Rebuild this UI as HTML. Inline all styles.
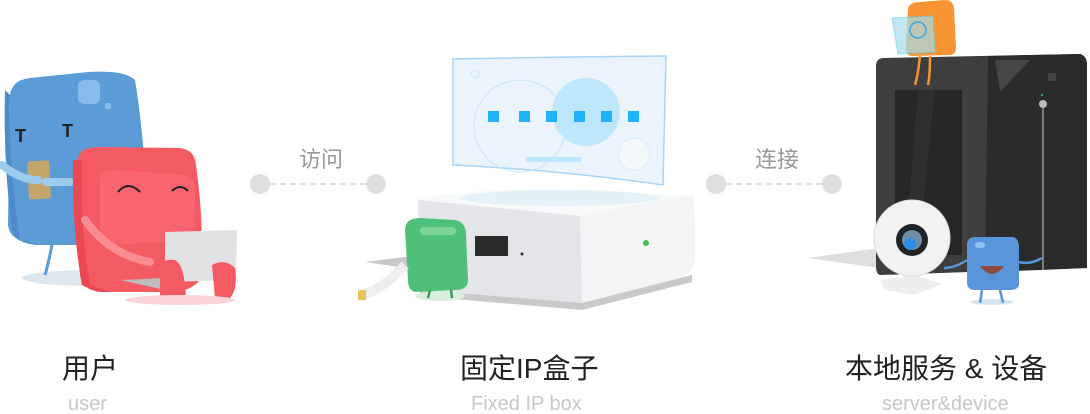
<!DOCTYPE html>
<html><head><meta charset="utf-8"><style>
html,body{margin:0;padding:0;background:#fff;width:1090px;height:414px;overflow:hidden;position:relative;font-family:"Liberation Sans","Noto Sans CJK SC",sans-serif}
.t{position:absolute;white-space:nowrap}
.cn{font-size:28px;color:#222;top:347px}
.en{font-size:20px;color:#c8c8c8;top:393px}
.lk{font-size:22px;color:#999;top:142px}
</style></head><body>
<svg width="1090" height="414" style="position:absolute;left:0;top:0">
<g fill="#dedede"><circle cx="260" cy="184" r="10"/><circle cx="376" cy="184" r="10"/><circle cx="716" cy="184" r="10"/><circle cx="832" cy="184" r="10"/></g>
<g stroke="#dedede" stroke-width="2" stroke-dasharray="6,4"><line x1="270" y1="184" x2="366" y2="184"/><line x1="726" y1="184" x2="822" y2="184"/></g>
<ellipse cx="90" cy="278" rx="68" ry="8" fill="#dfe7ee"/>
<path d="M10 95 Q12 80 30 78 L88 72 Q125 70 135 80 Q145 140 148 230 Q140 245 120 245 L40 245 Q10 243 8 225 Z" fill="#5b9bd6"/>
<path d="M5 90 Q3 160 12 232 Q20 245 40 245 L20 240 Q8 160 10 95Z" fill="#4d8cc8"/>
<rect x="78" y="80" width="22" height="24" rx="6" fill="#86bbea"/>
<rect x="105" y="103" width="6" height="6" rx="2" fill="#86bbea"/>
<text x="15" y="142" font-size="18" font-weight="bold" fill="#222" font-family="Liberation Sans">T</text>
<text x="62" y="137" font-size="18" font-weight="bold" fill="#222" font-family="Liberation Sans">T</text>
<rect x="28" y="161" width="22" height="38" rx="2" fill="#c5a66a" transform="rotate(-3 39 180)"/>
<path d="M2 165 Q20 180 38 180" stroke="#9ccbf0" stroke-width="8" fill="none" stroke-linecap="round"/>
<path d="M46 182 L70 182" stroke="#9ccbf0" stroke-width="8" stroke-linecap="round"/>
<path d="M52 245 Q48 265 45 275" stroke="#5b9bd6" stroke-width="3" fill="none"/>
<path d="M78 158 Q80 147 100 147 L180 148 Q195 150 196 165 Q205 230 200 280 Q190 292 170 292 L100 292 Q82 290 80 275 Z" fill="#f45a62"/>
<path d="M100 180 Q100 170 115 170 L185 175 Q194 176 195 190 L195 240 L110 245 Q100 245 100 235 Z" fill="#f9656f"/>
<path d="M73 160 Q72 230 82 285 Q95 292 110 292 L90 285 Q80 230 82 160 Z" fill="#e94852"/>
<path d="M118 192 Q128 180 140 192" stroke="#222" stroke-width="2" fill="none"/>
<path d="M172 191 Q180 183 188 191" stroke="#222" stroke-width="2" fill="none"/>
<path d="M85 220 Q110 255 150 262" stroke="#f98b93" stroke-width="8" fill="none" stroke-linecap="round"/>
<path d="M165 232 L237 230 L236 280 L165 282 Z" fill="#e2e2e4"/>
<path d="M120 280 L165 278 L165 290 Z" fill="#bdbdbd"/>
<path d="M160 270 Q160 258 175 260 Q185 265 186 300 L160 300 Z" fill="#f45a62"/>
<path d="M212 265 Q225 258 235 268 Q238 290 230 298 L215 298 Z" fill="#f45a62"/>
<ellipse cx="180" cy="300" rx="55" ry="5" fill="#f9d3d6"/>
<path d="M453 59 Q560 57 666 56 L663 185 Q560 170 453 165 Z" fill="#ebf4fd" stroke="#a8d4f5" stroke-width="1.5"/>
<circle cx="520" cy="126" r="46" fill="none" stroke="#c8e6fa" stroke-width="1"/>
<circle cx="586" cy="112" r="34" fill="#bee6fd"/>
<circle cx="634" cy="154" r="16" fill="#f2f8fa" stroke="#d4ecf8"/>
<circle cx="475" cy="74" r="4" fill="none" stroke="#c8e6fa"/>
<rect x="526" y="157" width="55" height="5" fill="#bee6fd"/>
<g fill="#1fb3fb"><rect x="488" y="111" width="11" height="11"/><rect x="519" y="111" width="11" height="11"/><rect x="546" y="111" width="11" height="11"/><rect x="574" y="111" width="11" height="11"/><rect x="601" y="111" width="11" height="11"/><rect x="628" y="111" width="11" height="11"/></g>
<path d="M365 262 L420 255 L420 270 Z" fill="#c8c8c8"/>
<path d="M418 198 Q500 186 580 190 L690 196 L695 222 L580 222 L418 212 Z" fill="#f7f9fa"/>
<ellipse cx="560" cy="198" rx="100" ry="8" fill="#e4f2f8"/>
<path d="M418 200 L580 216 L582 303 L420 290 Z" fill="#e3e5e8"/>
<path d="M580 216 Q600 210 692 196 Q696 200 695 260 Q694 272 680 278 L582 303 Z" fill="#f3f4f5"/>
<path d="M420 290 L582 303 L692 275 L692 282 L582 310 L420 296 Z" fill="#c9c9c9"/>
<rect x="475" y="236" width="33" height="20" fill="#2a2c2c"/>
<circle cx="522" cy="254" r="1.5" fill="#333"/>
<circle cx="646" cy="243" r="3" fill="#3fbf4a"/>
<ellipse cx="440" cy="296" rx="25" ry="5" fill="#d8efdf"/>
<path d="M405 230 Q405 218 420 218 L455 220 Q466 222 466 235 L468 280 Q468 290 455 290 L415 292 Q408 290 408 280 Z" fill="#4fc079"/>
<rect x="420" y="227" width="36" height="8" rx="4" fill="#7fd59e"/>
<path d="M430 290 L428 298 M451 290 L452 298" stroke="#3a9a5a" stroke-width="2.5"/>
<path d="M360 295 Q380 292 405 265" stroke="#eee" stroke-width="10" fill="none"/>
<rect x="358" y="290" width="8" height="10" fill="#e8c25a"/>
<path d="M808 258 L880 248 L880 268 Z" fill="#dedede"/>
<path d="M876 66 Q876 58 884 58 L1080 54 Q1087 56 1087 65 L1087 268 L880 275 Q876 274 876 266 Z" fill="#3e3e3e"/>
<path d="M988 56 L1080 54 Q1087 56 1087 65 L1087 268 L1040 270 L985 272 Z" fill="#2a2b2a"/>
<path d="M995 60 L1030 60 L1000 92 Z" fill="#454645"/>
<rect x="895" y="90" width="67" height="165" fill="#252625"/>
<path d="M918 90 L935 90 L918 255 L905 255 Z" fill="#2e2f2e"/>
<rect x="1048" y="73" width="8" height="8" rx="1" fill="#444"/>
<circle cx="1043" cy="104" r="4" fill="#bbb"/>
<line x1="1043" y1="108" x2="1043" y2="270" stroke="#ccc" stroke-width="1"/>
<circle cx="1042" cy="95" r="1" fill="#3cc"/>
<path d="M908 8 Q910 2 920 2 L945 0 Q953 0 954 8 L956 48 Q956 55 948 55 L912 56 Q906 56 906 48 Z" fill="#f79433"/>
<path d="M892 18 L933 16 L935 52 L898 54 Z" fill="#a7dcec" opacity="0.7" stroke="#69cfe8"/>
<circle cx="918" cy="30" r="8" fill="none" stroke="#3aa5e0" stroke-width="1.5"/>
<path d="M920 56 Q918 75 915 85 M930 56 Q930 75 928 85" stroke="#f79433" stroke-width="2.5" fill="none"/>
<path d="M880 280 L915 275 L942 284 L915 295 L885 290 Z" fill="#eeeeee"/>
<circle cx="912" cy="238" r="38" fill="#f1f2f3" stroke="#d7dadc"/>
<circle cx="912" cy="240" r="16" fill="#1f2224"/>
<circle cx="912" cy="240" r="10" fill="#6f8ea5"/>
<circle cx="910" cy="244" r="6" fill="#2a8fe6"/>
<ellipse cx="992" cy="302" rx="22" ry="3" fill="#d6e6f3"/>
<path d="M967 245 Q967 237 975 237 L1012 237 Q1018 237 1019 246 L1019 285 Q1018 290 1010 290 L975 290 Q967 290 967 282 Z" fill="#5995d8"/>
<rect x="975" y="242" width="10" height="6" rx="3" fill="#8ec0ef"/>
<path d="M980 266 Q992 282 1004 266 Z" fill="#8b4b3e"/>
<path d="M944 268 Q955 268 967 260 M1019 262 Q1030 265 1042 258" stroke="#5995d8" stroke-width="2.5" fill="none"/>
<path d="M982 290 L980 303 M1000 290 L1003 303" stroke="#5995d8" stroke-width="2.5"/>
</svg>
<div class="t lk" style="left:299px">访问</div>
<div class="t lk" style="left:755px">连接</div>
<div class="t cn" style="left:62px">用户</div>
<div class="t en" style="left:68px">user</div>
<div class="t cn" style="left:460px">固定IP盒子</div>
<div class="t en" style="left:471px">Fixed IP box</div>
<div class="t cn" style="left:845px">本地服务 &amp; 设备</div>
<div class="t en" style="left:882px">server&amp;device</div>
</body></html>
